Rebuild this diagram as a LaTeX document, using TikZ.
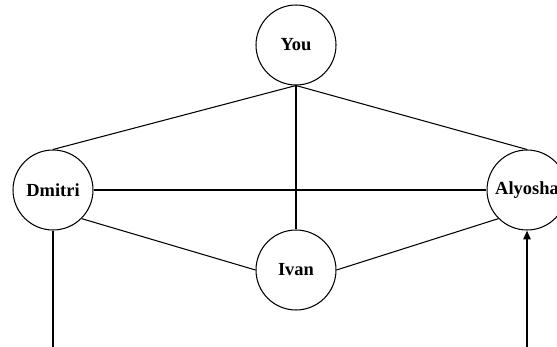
\documentclass[tikz,border=0pt]{standalone}
\usepackage{fontspec}
\setmainfont{Liberation Serif}
\usetikzlibrary{arrows.meta}

\begin{document}
\begin{tikzpicture}[
  x=0.02cm, y=-0.02cm,
  person/.style={circle, draw, line width=0.6pt, minimum size=1.6cm, inner sep=0pt,
                 font=\fontsize{10.5}{12}\selectfont\bfseries},
  link/.style={line width=0.6pt},
  arrow/.style={-{Triangle[length=5pt, width=4pt]}, line width=1.2pt}
]
\useasboundingbox (0,0) rectangle (557,347);

% People
\node[person] (you)     at (296, 45)  {You};
\node[person] (dmitri)  at (53, 190)  {Dmitri};
\node[person] (alyosha) at (527, 190) {Alyosha};
\node[person] (ivan)    at (296, 270) {Ivan};

% Loose ends at the bottom edge
\coordinate (dmitri_out) at (53, 347);
\coordinate (alyosha_in) at (527, 347);

% Links
\draw[link] (you.south) -- (dmitri.north);
\draw[link] (you.south) -- (alyosha.north);
\draw[link] (you.south) -- (ivan.north);
\draw[link] (dmitri) -- (alyosha);
\draw[link] (dmitri.-45) -- (ivan.west);
\draw[link] (ivan.east) -- (alyosha.-135);
\draw[link] (dmitri.south) -- (dmitri_out);
\draw[arrow] (alyosha_in) -- (alyosha.south);

\end{tikzpicture}
\end{document}
